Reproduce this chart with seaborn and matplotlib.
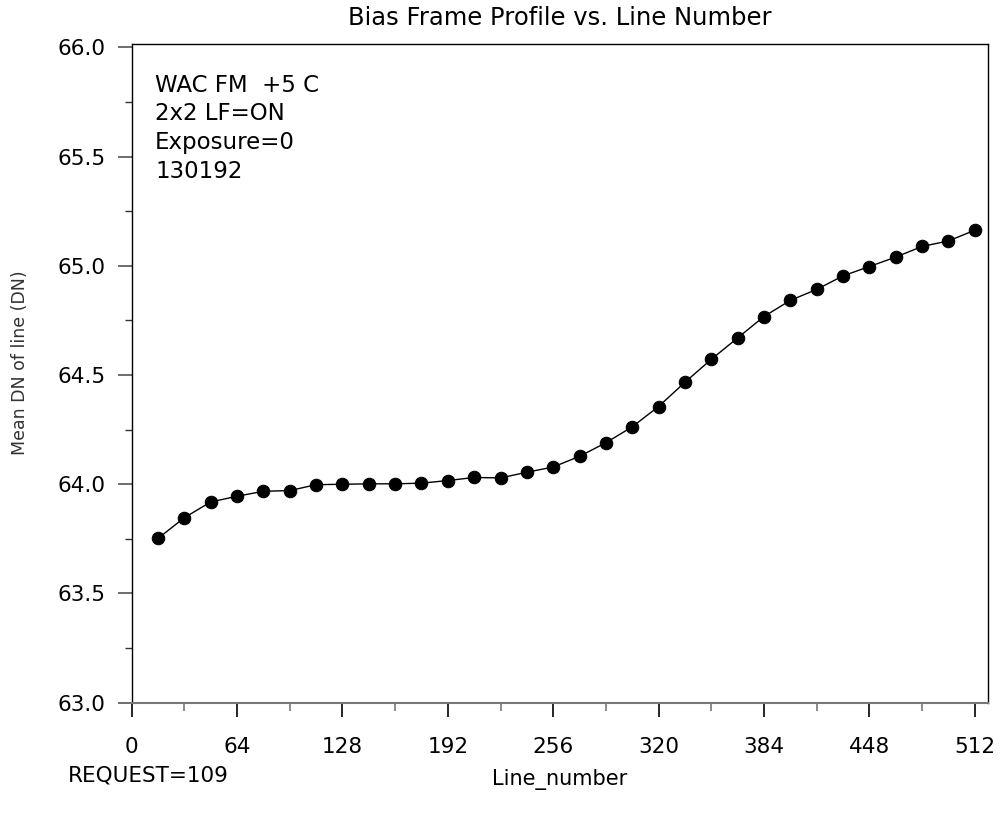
import numpy as np
import pandas as pd
import matplotlib
matplotlib.use("Agg")
import matplotlib.pyplot as plt
import seaborn as sns
from matplotlib.ticker import MultipleLocator, FormatStrFormatter

# ---- data ----
line_number = [16, 32, 48, 64, 80, 96, 112, 128, 144, 160, 176, 192, 208, 224, 240, 256,
               272, 288, 304, 320, 336, 352, 368, 384, 400, 416, 432, 448, 464, 480, 496, 512]
mean_dn = [63.752, 63.847, 63.919, 63.945, 63.968, 63.971, 63.998, 64.000, 64.002, 64.002,
           64.005, 64.017, 64.031, 64.029, 64.055, 64.079, 64.128, 64.190, 64.263, 64.356,
           64.467, 64.572, 64.670, 64.768, 64.842, 64.892, 64.954, 64.997, 65.040, 65.089,
           65.114, 65.163]
x_ticks = [0, 64, 128, 192, 256, 320, 384, 448, 512]
y_ticks = [63.0, 63.5, 64.0, 64.5, 65.0, 65.5, 66.0]
info_lines = ["WAC FM  +5 C", "2x2 LF=ON", "Exposure=0", "130192"]
title = "Bias Frame Profile vs. Line Number"
x_label = "Line_number"
y_label = "Mean DN of line (DN)"
request_text = "REQUEST=109"

sns.set_theme(style="white")
plt.rcParams["font.family"] = ["DejaVu Sans"]

fig = plt.figure(figsize=(10.05, 8.18), dpi=100)
ax = fig.add_axes([0.131, 0.141, 0.852, 0.805])

df = pd.DataFrame({"Line_number": line_number, "mean": mean_dn})
sns.lineplot(data=df, x="Line_number", y="mean", ax=ax, color="black", linewidth=1,
             marker="o", markersize=9, markeredgecolor="black", markerfacecolor="black")

ax.set_xlim(0, 520)
ax.set_ylim(63.0, 66.015)
ax.set_xticks(x_ticks)
ax.set_yticks(y_ticks)
ax.xaxis.set_minor_locator(MultipleLocator(32))
ax.yaxis.set_minor_locator(MultipleLocator(0.25))
ax.yaxis.set_major_formatter(FormatStrFormatter("%.1f"))

for s in ["left", "top", "right"]:
    ax.spines[s].set_color("black")
    ax.spines[s].set_linewidth(1.0)
ax.spines["bottom"].set_color("#777777")
ax.spines["bottom"].set_linewidth(1.5)

ax.tick_params(axis="x", which="major", direction="out", length=10, width=1.2,
               color="black", pad=15, labelsize=15.5, labelcolor="black", bottom=True)
ax.tick_params(axis="x", which="minor", direction="out", length=6, width=1.2,
               color="#777777", bottom=True)
ax.tick_params(axis="y", which="major", direction="out", length=10, width=1.2,
               color="#555555", pad=9, labelsize=15.5, labelcolor="black", left=True)
ax.tick_params(axis="y", which="minor", direction="out", length=5, width=1.0,
               color="#333333", left=True)

ax.set_title(title, fontsize=17.5, pad=13.5, color="black")
ax.set_xlabel(x_label, fontsize=15, color="black")
ax.xaxis.set_label_coords(0.5, -0.1)
ax.set_ylabel(y_label, fontsize=12.5, color="#333333")
ax.yaxis.set_label_coords(-0.12, 0.517)

# info block
for i, txt in enumerate(info_lines):
    y_px = 91.7 + i * 28.7
    fig.text(155 / 1005, 1 - y_px / 818, txt, fontsize=16.5, ha="left", va="baseline",
             color="black")

fig.text(68 / 1005, 1 - 775 / 818, request_text, fontsize=15.5, ha="left", va="center",
         color="black")

fig.savefig("out.png", dpi=100, facecolor="white")
